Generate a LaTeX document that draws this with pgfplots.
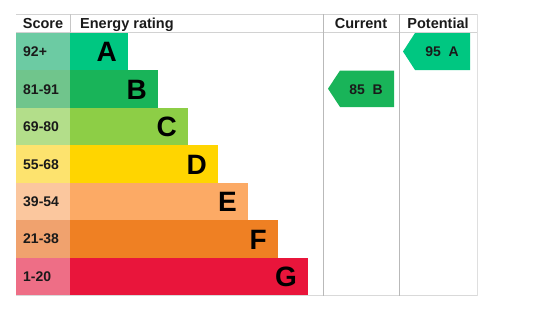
\documentclass[border=0pt]{standalone}
\usepackage{fontspec}
\setmainfont{Liberation Sans}
\usepackage{pgfplots}
\pgfplotsset{compat=1.18}
\definecolor{cA}{HTML}{00C781}
\definecolor{cB}{HTML}{19B459}
\definecolor{cC}{HTML}{8DCE46}
\definecolor{cD}{HTML}{FFD500}
\definecolor{cE}{HTML}{FCAA65}
\definecolor{cF}{HTML}{EF8023}
\definecolor{cG}{HTML}{E9153B}
\definecolor{sA}{HTML}{6CCBA3}
\definecolor{sB}{HTML}{70C58C}
\definecolor{sC}{HTML}{B3DE8A}
\definecolor{sD}{HTML}{FDE36E}
\definecolor{sE}{HTML}{FBC79E}
\definecolor{sF}{HTML}{F0A26E}
\definecolor{sG}{HTML}{EE6E86}
\definecolor{txt}{HTML}{1A1A1A}
\newcommand{\hfnt}{\fontsize{14.5}{16}\selectfont\bfseries}
\newcommand{\sfnt}{\fontsize{14}{16}\selectfont\bfseries}
\newcommand{\lfnt}{\fontsize{28}{30}\selectfont\bfseries}
\newcommand{\afnt}{\fontsize{14}{16}\selectfont\bfseries}
\begin{document}
\begin{tikzpicture}
\begin{axis}[width=551pt,height=311pt,scale only axis,
  xmin=-70,xmax=481,ymin=0,ymax=311,y dir=reverse,hide axis,
  every axis plot/.append style={bar shift=0pt, bar width=37.43}]
\path (rel axis cs:0,0) rectangle (rel axis cs:1,1);
% score column
\addplot[xbar,fill=sA,draw=none] coordinates {(-54,51.7)};
\addplot[xbar,fill=sB,draw=none] coordinates {(-54,89.1)};
\addplot[xbar,fill=sC,draw=none] coordinates {(-54,126.5)};
\addplot[xbar,fill=sD,draw=none] coordinates {(-54,164.0)};
\addplot[xbar,fill=sE,draw=none] coordinates {(-54,201.4)};
\addplot[xbar,fill=sF,draw=none] coordinates {(-54,238.8)};
\addplot[xbar,fill=sG,draw=none] coordinates {(-54,276.3)};
% rating bars
\addplot[xbar,fill=cA,draw=none] coordinates {(58,51.7)};
\addplot[xbar,fill=cB,draw=none] coordinates {(88,89.1)};
\addplot[xbar,fill=cC,draw=none] coordinates {(118,126.5)};
\addplot[xbar,fill=cD,draw=none] coordinates {(148,164.0)};
\addplot[xbar,fill=cE,draw=none] coordinates {(178,201.4)};
\addplot[xbar,fill=cF,draw=none] coordinates {(208,238.8)};
\addplot[xbar,fill=cG,draw=none] coordinates {(238,276.3)};
% grid lines
\addplot[gray!35,line width=0.8pt] coordinates {(-54,14) (407,14)};
\addplot[gray!35,line width=0.8pt] coordinates {(-54,32.5) (407,32.5)};
\addplot[gray!30,line width=0.8pt] coordinates {(-54,295.5) (407,295.5)};
\addplot[gray!45,line width=0.8pt] coordinates {(0,14) (0,32.5)};
\addplot[gray!55,line width=0.8pt] coordinates {(253,14) (253,295.5)};
\addplot[gray!55,line width=0.8pt] coordinates {(329,14) (329,295.5)};
\addplot[gray!25,line width=0.8pt] coordinates {(407,14) (407,295.5)};
% arrows
\addplot[fill=cB,draw=none] coordinates {(258,88.7) (270,70.5) (324,70.5) (324,107) (270,107)} --cycle;
\addplot[fill=cA,draw=none] coordinates {(333,51.5) (345,33) (400,33) (400,70) (345,70)} --cycle;
% header text
\node[anchor=base,font=\hfnt,text=txt,inner sep=0] at (axis cs:-27,28.3) {Score};
\node[anchor=base west,font=\hfnt,text=txt,inner sep=0] at (axis cs:10,28.3) {Energy rating};
\node[anchor=base,font=\hfnt,text=txt,inner sep=0] at (axis cs:291,28.3) {Current};
\node[anchor=base,font=\hfnt,text=txt,inner sep=0] at (axis cs:368,28.3) {Potential};
% score labels
\node[anchor=base west,font=\sfnt,text=txt,inner sep=0] at (axis cs:-47,56.7) {92+};
\node[anchor=base west,font=\sfnt,text=txt,inner sep=0] at (axis cs:-47,94.1) {81-91};
\node[anchor=base west,font=\sfnt,text=txt,inner sep=0] at (axis cs:-47,131.5) {69-80};
\node[anchor=base west,font=\sfnt,text=txt,inner sep=0] at (axis cs:-47,169.0) {55-68};
\node[anchor=base west,font=\sfnt,text=txt,inner sep=0] at (axis cs:-47,206.4) {39-54};
\node[anchor=base west,font=\sfnt,text=txt,inner sep=0] at (axis cs:-47,243.8) {21-38};
\node[anchor=base west,font=\sfnt,text=txt,inner sep=0] at (axis cs:-47,281.3) {1-20};
% letters
\node[anchor=base east,font=\lfnt,inner sep=0] at (axis cs:47,61.9) {A};
\node[anchor=base east,font=\lfnt,inner sep=0] at (axis cs:77,99.3) {B};
\node[anchor=base east,font=\lfnt,inner sep=0] at (axis cs:107,136.7) {C};
\node[anchor=base east,font=\lfnt,inner sep=0] at (axis cs:137,174.2) {D};
\node[anchor=base east,font=\lfnt,inner sep=0] at (axis cs:167,211.6) {E};
\node[anchor=base east,font=\lfnt,inner sep=0] at (axis cs:197,249.0) {F};
\node[anchor=base east,font=\lfnt,inner sep=0] at (axis cs:227,286.3) {G};
% arrow labels
\node[anchor=base,font=\afnt,text=txt,inner sep=0] at (axis cs:296,94) {85\ \ B};
\node[anchor=base,font=\afnt,text=txt,inner sep=0] at (axis cs:372,56.5) {95\ \ A};
\end{axis}
\end{tikzpicture}
\end{document}
